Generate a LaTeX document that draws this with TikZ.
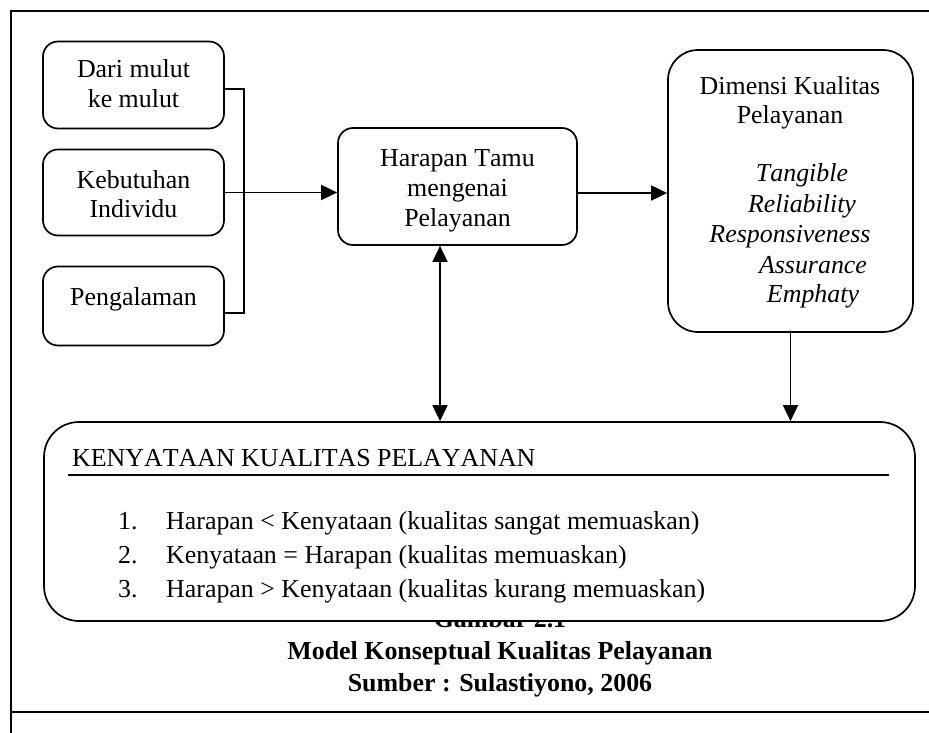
\documentclass[tikz,border=0pt]{standalone}
\usepackage{fontspec}
\setmainfont{Liberation Serif}[Kerning=Off]
\usetikzlibrary{arrows.meta}
\begin{document}
\begin{tikzpicture}[x=1pt,y=-1pt,
  every node/.style={font=\fontsize{25.9}{29.5}\selectfont},
  frame/.style={line width=1.8pt},
  box/.style={draw,line width=1.7pt,rounded corners=15pt,inner sep=0pt},
  conn/.style={line width=1.8pt},
  arr/.style={conn,-{Triangle[length=16pt,width=15pt]}},
  darr/.style={conn,{Triangle[length=16pt,width=15pt]}-{Triangle[length=16pt,width=15pt]}},
  txt/.style={inner sep=0pt,anchor=base},
  itxt/.style={inner sep=0pt,anchor=base,font=\fontsize{25.9}{29.5}\selectfont\itshape},
  itm/.style={inner sep=0pt,anchor=base west},
  captxt/.style={inner sep=0pt,anchor=base,font=\fontsize{25.9}{29.5}\selectfont\bfseries}]
\useasboundingbox (0,0) rectangle (929,733);
% outer frame
\coordinate (ftl) at (11,11);
\coordinate (ftr) at (929,11);
\coordinate (fbl) at (11,733);
\coordinate (fml) at (11,712);
\coordinate (fmr) at (929,712);
\draw[frame] (ftr) -- (ftl) -- (fbl);
\draw[frame] (fml) -- (fmr);
% caption (partly covered by the box)
\node[captxt] (gam) at (500,627) {Gambar 2.1};
\node[captxt] (mod) at (500,659) {Model Konseptual Kualitas Pelayanan};
\node[captxt] (sum) at (500,691) {Sumber : Sulastiyono, 2006};
% left boxes
\node[box,minimum width=181pt,minimum height=87pt] (b1) at (133.5,85) {};
\node[txt] (t1a) at (133.5,78) {Dari mulut};
\node[txt] (t1b) at (133.5,108) {ke mulut};
\node[box,minimum width=181pt,minimum height=86pt] (b2) at (133.5,192.5) {};
\node[txt] (t2a) at (133.5,188) {Kebutuhan};
\node[txt] (t2b) at (133.5,217) {Individu};
\node[box,minimum width=181pt,minimum height=79pt] (b3) at (133.5,306) {};
\node[txt] (t3) at (133.5,305) {Pengalaman};
% middle box
\node[box,minimum width=239pt,minimum height=117pt] (har) at (457.5,186.5) {};
\node[txt] (tha) at (457.5,167) {Harapan Tamu};
\node[txt] (thb) at (457.5,196.5) {mengenai};
\node[txt] (thc) at (457.5,226) {Pelayanan};
% right box
\node[box,rounded corners=30pt,minimum width=245pt,minimum height=282pt] (dim) at (790.5,191) {};
\node[txt] (tda) at (790,95) {Dimensi Kualitas};
\node[txt] (tdb) at (790,124) {Pelayanan};
\node[itxt] (i1) at (802,182) {Tangible};
\node[itxt] (i2) at (802,212) {Reliability};
\node[itxt] (i3) at (790,242) {Responsiveness};
\node[itxt] (i4) at (813,273) {Assurance};
\node[itxt] (i5) at (813,302) {Emphaty};
% bottom box
\node[box,fill=white,rounded corners=35pt,minimum width=871pt,minimum height=199pt] (ken) at (479.5,521.5) {};
\node[itm] (kt) at (72,466) {KENYATAAN KUALITAS PELAYANAN};
\coordinate (ul1) at (68,475);
\coordinate (ul2) at (889,475);
\draw[line width=1.7pt] (ul1) -- (ul2);
\node[itm] (n1) at (118,529.5) {1.};
\node[itm] (l1) at (166,529.5) {Harapan < Kenyataan (kualitas sangat memuaskan)};
\node[itm] (n2) at (118,563) {2.};
\node[itm] (l2) at (166,563) {Kenyataan = Harapan (kualitas memuaskan)};
\node[itm] (n3) at (118,597) {3.};
\node[itm] (l3) at (166,597) {Harapan > Kenyataan (kualitas kurang memuaskan)};
% connectors
\coordinate (br1) at (244,89);
\coordinate (br2) at (244,313);
\draw[conn] ([yshift=-4pt]b1.east) -- (br1) -- (br2) -- ([yshift=-7pt]b3.east);
\draw[arr] (b2.east) -- (b2.east -| har.west);
\draw[arr] ([yshift=-6.5pt]har.east) -- ([yshift=-6.5pt]har.east -| dim.west);
\coordinate (dx) at (440,0);
\draw[darr] (dx |- har.south) -- (dx |- ken.north);
\draw[arr] (dim.south) -- (dim.south |- ken.north);
\end{tikzpicture}
\end{document}
